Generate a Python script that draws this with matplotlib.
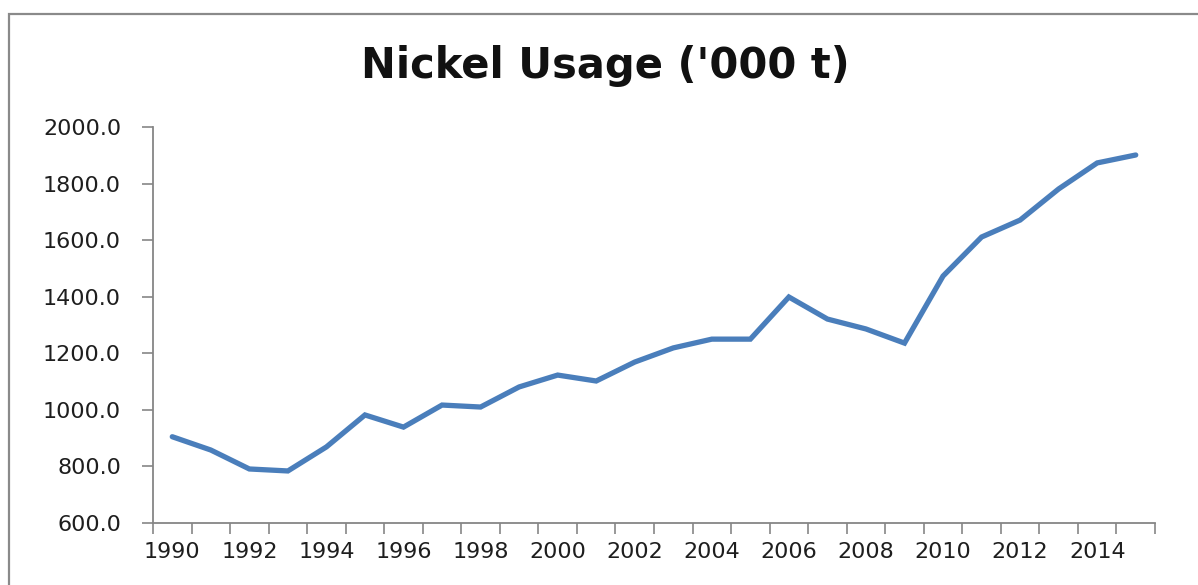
import matplotlib

matplotlib.use("Agg")

import matplotlib.pyplot as plt
from matplotlib.patches import Rectangle
from matplotlib.ticker import FormatStrFormatter, MultipleLocator

YEARS = list(range(1990, 2016))
USAGE = [
    905, 858, 791, 784, 869, 982, 939, 1017, 1010, 1081, 1123, 1102, 1169,
    1219, 1250, 1250, 1399, 1321, 1286, 1236, 1473, 1611, 1671, 1781, 1873, 1901,
]
TITLE = "Nickel Usage ('000 t)"
Y_TICKS = list(range(600, 2001, 200))

AXIS_GREY = "#868686"
LINE_BLUE = "#4a7ebb"


def main():
    fig = plt.figure(figsize=(11.98, 5.85), dpi=100)
    ax = fig.add_axes([153 / 1198, 1 - 523 / 585, (1155 - 153) / 1198, (523 - 127) / 585])

    ax.plot(YEARS, USAGE, color=LINE_BLUE, lw=3.8, solid_capstyle="round",
            solid_joinstyle="miter")

    ax.set_xlim(YEARS[0] - 0.5, YEARS[-1] + 0.5)
    ax.set_ylim(Y_TICKS[0], Y_TICKS[-1])
    ax.set_yticks(Y_TICKS)
    ax.yaxis.set_major_formatter(FormatStrFormatter("%.1f"))

    # Excel-style category axis: labels on every other year, marks between years
    ax.set_xticks(YEARS[::2])
    ax.xaxis.set_minor_locator(MultipleLocator(1, offset=0.5))
    ax.tick_params(axis="x", which="major", length=0, pad=14)
    ax.tick_params(axis="x", which="minor", length=8, width=1.2, color=AXIS_GREY,
                   direction="out")
    ax.tick_params(axis="y", length=8, width=1.2, color=AXIS_GREY, pad=15)
    ax.tick_params(labelsize=16, labelcolor="#1e1e1e")

    for side in ("top", "right"):
        ax.spines[side].set_visible(False)
    for side in ("left", "bottom"):
        ax.spines[side].set_color(AXIS_GREY)
        ax.spines[side].set_linewidth(1.3)

    fig.text(0.505, 1 - 66 / 585, TITLE, ha="center", va="center",
             fontsize=30, fontweight="bold", color="#111111")

    # chart-area frame, cut off at the right and bottom of the picture
    fig.patches.append(Rectangle((9 / 1198, -0.1), 1.2, 1.1 - 14 / 585,
                                 transform=fig.transFigure, fill=False,
                                 edgecolor="#8a8a8a", lw=1.6))

    fig.savefig("out.png", dpi=100)
    plt.close(fig)


if __name__ == "__main__":
    main()
